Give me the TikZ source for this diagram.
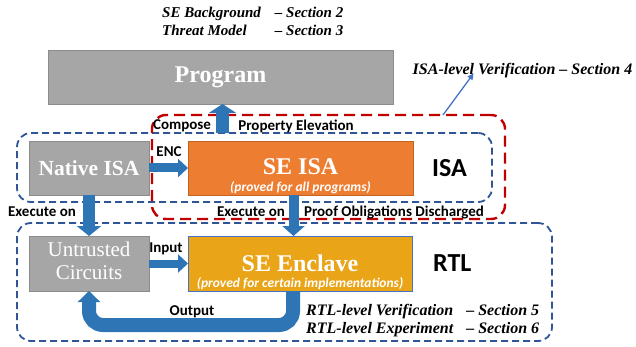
\documentclass[tikz,border=0pt]{standalone}
\usepackage{fontspec}
\setmainfont{Liberation Serif}
\newfontfamily\lblfont{Carlito}
\usetikzlibrary{arrows.meta, positioning}
\definecolor{boxgray}{RGB}{166,166,166}
\definecolor{boxgrayline}{RGB}{140,140,140}
\definecolor{seorange}{RGB}{237,125,49}
\definecolor{seorangeline}{RGB}{196,98,36}
\definecolor{enclgold}{RGB}{233,164,24}
\definecolor{enclline}{RGB}{68,114,196}
\definecolor{flowblue}{RGB}{46,117,182}
\definecolor{thinblue}{RGB}{68,114,196}
\definecolor{regionblue}{RGB}{47,85,151}
\definecolor{regionred}{RGB}{192,0,0}

\begin{document}
\begin{tikzpicture}[x=1pt, y=-1pt,
    box/.style={draw, line width=0.8pt, inner sep=0pt, outer sep=0pt, text=white, align=center},
    region/.style={draw, rounded corners=14pt, inner sep=0pt, outer sep=0pt},
    lbl/.style={inner sep=0pt, font=\lblfont\bfseries\fontsize{15}{17}\selectfont},
    sublbl/.style={inner sep=0pt, text=white, anchor=south, yshift=1pt,
                   font=\lblfont\bfseries\itshape\fontsize{13.5}{14}\selectfont},
    sec/.style={inner sep=0pt, font=\bfseries\itshape\fontsize{16}{18}\selectfont},
    flow/.style={draw=flowblue, line width=#1},
    flow/.default=9pt
]
        \useasboundingbox (0,0) rectangle (636,347);

        % Boxes
        \node[box, fill=boxgray, draw=boxgrayline, minimum width=345pt, minimum height=54pt,
              font=\bfseries\fontsize{24}{26}\selectfont] (Prog) at (220.5,77) {Program};
        \node[box, fill=boxgray, draw=boxgrayline, minimum width=120pt, minimum height=54pt,
              font=\bfseries\fontsize{21.5}{23}\selectfont] (NatISA) at (89,168) {Native ISA};
        \node[box, fill=seorange, draw=seorangeline, minimum width=225pt, minimum height=54pt,
              font=\bfseries\fontsize{24}{24}\selectfont, right=39pt of NatISA,
              label={[sublbl]south:(proved for all programs)}] (SEISA) {\raisebox{3pt}{SE ISA}};
        \node[box, fill=boxgray, draw=boxgrayline, minimum width=120pt, minimum height=55pt,
              font=\fontsize{21}{23}\selectfont, below=41pt of NatISA] (Untr)
              {\begin{tabular}{@{}c@{}}Untrusted\\Circuits\end{tabular}};
        \node[box, fill=enclgold, draw=enclline, minimum width=224pt, minimum height=55pt,
              font=\bfseries\fontsize{24}{24}\selectfont, right=39pt of Untr,
              label={[sublbl]south:(proved for certain implementations)}] (Encl) {SE Enclave};

        % Level labels
        \node[lbl, font=\lblfont\bfseries\fontsize{26}{28}\selectfont, right=19pt of SEISA] (ISAlbl) {ISA};
        \node[lbl, font=\lblfont\bfseries\fontsize{26}{28}\selectfont, right=21pt of Encl] (RTLlbl) {RTL};

        % Dashed regions
        \node[region, draw=regionblue, line width=1.8pt, dash pattern=on 7pt off 4pt,
              minimum width=475pt, minimum height=69pt] (isabox) at (254.5,167.5) {};
        \node[region, draw=regionred, line width=2.4pt, dash pattern=on 11pt off 6pt,
              minimum width=353pt, minimum height=104pt] (isaver) at (328.5,167) {};
        \node[region, draw=regionblue, line width=1.8pt, dash pattern=on 7pt off 4pt,
              minimum width=535pt, minimum height=118pt] (rtlbox) at (284.5,282) {};

        % Section notes
        \node[sec, font=\bfseries\itshape\fontsize{15}{18}\selectfont, anchor=north west] (secbg) at (162,5)
              {\begin{tabular}{@{}l@{\hspace{14pt}}l@{}}SE Background & -- Section 2\\ Threat Model & -- Section 3\end{tabular}};
        \node[sec] (isavlbl) at (522.5,71) {ISA-level Verification -- Section 4};
        \node[sec, anchor=north west] (secrtl) at (306,303)
              {\begin{tabular}{@{}l@{\hspace{13pt}}l@{}}RTL-level Verification & -- Section 5\\ RTL-level Experiment & -- Section 6\end{tabular}};

        % Connector labels
        \node[lbl] (compose) at (182,126) {Compose};
        \node[lbl] (elev) at (296,126) {Property Elevation};
        \node[lbl] (enc) at (169,152) {ENC};
        \node[lbl] (exec1) at (42,212) {Execute on};
        \node[lbl] (exec2) at (251,212) {Execute on};
        \node[lbl] (proof) at (394,212) {Proof Obligations Discharged};
        \node[lbl] (input) at (166,249) {Input};
        \node[lbl] (output) at (192,312) {Output};

        % Flows
        \draw[flow=13pt, -{Triangle[length=9pt, width=27pt]}]
              ([xshift=2pt]Prog.south |- isabox.north) -- ([xshift=2pt]Prog.south);
        \draw[flow, -{Triangle[length=10pt, width=18pt]}] (NatISA.east) -- (SEISA.west);
        \draw[flow=12pt, -{Triangle[length=10pt, width=24pt]}] (NatISA.south) -- (Untr.north);
        \draw[flow=10pt, -{Triangle[length=10pt, width=22pt]}]
              ([xshift=-7pt]SEISA.south) -- ([xshift=-7pt]SEISA.south |- Encl.north);
        \draw[flow=8pt, -{Triangle[length=10pt, width=18pt]}] (Untr.east) -- (Encl.west);
        \draw[flow=14pt, rounded corners=14pt, -{Triangle[length=11pt, width=22pt]}]
              ([xshift=-7pt]Encl.south) -- ++(0,34) -| (Untr.south);

        % Pointer to ISA-level note
        \draw[thinblue, line width=1.3pt, -{Triangle[length=6pt, width=6pt]}]
              ([xshift=114.5pt]isaver.north) -- ([xshift=-49pt, yshift=5pt]isavlbl.south);
\end{tikzpicture}
\end{document}
